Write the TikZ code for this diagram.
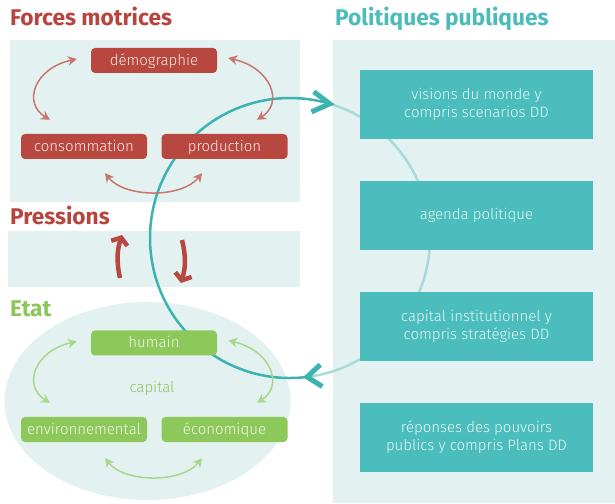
\documentclass[tikz,border=0pt]{standalone}
\usepackage{fontspec}
\setmainfont{Fira Sans}
\newfontfamily\lightfont{Fira Sans Light}
\usetikzlibrary{arrows.meta,calc}
\definecolor{redT}{HTML}{B8453D}
\definecolor{redBox}{HTML}{B8483F}
\definecolor{redArr}{HTML}{C8756C}
\definecolor{greenT}{HTML}{8CC65B}
\definecolor{greenBox}{HTML}{8DC85B}
\definecolor{greenArr}{HTML}{A9D78A}
\definecolor{tealT}{HTML}{4CBCBB}
\definecolor{tealBox}{HTML}{4BBDBC}
\definecolor{panel}{HTML}{E3F2F1}
\definecolor{tealDark}{HTML}{3DB3B1}
\definecolor{tealLight}{HTML}{A6DBD8}
\begin{document}
\begin{tikzpicture}[x=1pt,y=1pt,
  smallbox/.style={rounded corners=4pt, minimum width=126pt, minimum height=25pt, inner sep=0pt,
     text height=11pt, text depth=1pt, font=\lightfont\fontsize{15}{15}\selectfont},
  redbox/.style={smallbox, fill=redBox, text=white!88!redBox},
  greenbox/.style={smallbox, fill=greenBox, text=white!88!greenBox},
  polbox/.style={fill=tealBox, minimum width=233pt, minimum height=69pt, inner sep=0pt, align=center,
     text=white!88!tealBox, font=\lightfont\fontsize{15}{18}\selectfont},
  title/.style={anchor=base west, inner sep=0pt, font=\bfseries\fontsize{22.7}{22.7}\selectfont},
  dblarc/.style={line width=1.5pt, {Stealth[length=9pt,width=9.5pt]}-{Stealth[length=9pt,width=9.5pt]}},
  redarc/.style={dblarc, draw=redArr},
  greenarc/.style={dblarc, draw=greenArr},
  presarrow/.style={draw=redBox, line width=4.5pt, -{Straight Barb[length=6pt,width=17pt]}},
  cycarrow/.style={line width=2.5pt},
  chevron/.style={draw=tealDark, line width=5pt, line join=miter, line cap=butt}
]
\useasboundingbox (0,0) rectangle (615,503);
% panels
\fill[panel] (10,301) rectangle (300,463);
\fill[panel] (8,216) rectangle (300,272);
\fill[panel] (147.5,102) ellipse [x radius=143, y radius=99];
\fill[panel] (333,0) rectangle (615,463);
% titles
\node[title, text=redT] (tforces) at (10,477) {Forces motrices};
\node[title, text=redT] (tpress) at (10,278) {Pressions};
\node[title, text=greenT] (tetat) at (10,186) {Etat};
\node[title, text=tealT] (tpol) at (335,477) {Politiques publiques};
% cycle
\coordinate (cc) at (290,265);
\coordinate (ctop) at ($(cc)+(73.5:140)$);
\coordinate (cbot) at ($(cc)+(-83:140)$);
\draw[cycarrow, tealLight] (ctop) arc[start angle=73.5, end angle=-83, radius=140];
\draw[cycarrow, tealDark] (cbot) arc[start angle=277, end angle=73.5, radius=140];
\coordinate (ta1) at ($(ctop)+(143:20)$);
\coordinate (ta2) at ($(ctop)+(204:20)$);
\draw[chevron] (ta1) -- (ctop) -- (ta2);
\coordinate (ba1) at ($(cbot)+(43:18)$);
\coordinate (ba2) at ($(cbot)+(-32:18)$);
\draw[chevron] (ba1) -- (cbot) -- (ba2);
% pressions arrows
\coordinate (pu1) at (120,225); \coordinate (pu2) at (122,268);
\draw[presarrow] (pu1) to[bend left=15] (pu2);
\coordinate (pd1) at (182,263); \coordinate (pd2) at (181,220);
\draw[presarrow] (pd1) to[bend left=15] (pd2);
% politiques
\node[polbox] (p1) at (476.5,398.5) {visions du monde y\\compris scenarios DD};
\node[polbox] (p2) at (476.5,287.5) {agenda politique};
\node[polbox] (p3) at (476.5,176.5) {capital institutionnel y\\compris stratégies DD};
\node[polbox] (p4) at (476.5,65.5) {réponses des pouvoirs\\publics y compris Plans DD};
% forces
\node[redbox] (demo) at (154,442.5) {démographie};
\node[redbox] (cons) at (84,356.5) {consommation};
\node[redbox] (prod) at (224.5,356.5) {production};
\draw[redarc] ($(demo.west)+(-14,1.5)$) .. controls +(-42,-9) and +(-28,17) .. ($(cons.north)+(-34,14)$);
\draw[redarc] ($(demo.east)+(11,2.5)$) .. controls +(43,-10) and +(27,17) .. ($(prod.north)+(32.5,14)$);
\draw[redarc] ($(cons.south)+(21,-14)$) .. controls +(20,-25) and +(-20,-25) .. ($(prod.south)+(-22.5,-14)$);
% etat
\node[greenbox] (hum) at (154,160) {humain};
\node[greenbox] (env) at (84,73.5) {environnemental};
\node[greenbox] (eco) at (224.5,73.5) {économique};
\node[text=greenT, font=\lightfont\fontsize{15}{15}\selectfont] (cap) at (152,115) {capital};
\draw[greenarc] ($(hum.west)+(-14,1.5)$) .. controls +(-42,-9) and +(-28,17) .. ($(env.north)+(-34,14)$);
\draw[greenarc] ($(hum.east)+(11,2.5)$) .. controls +(43,-10) and +(27,17) .. ($(eco.north)+(32.5,14)$);
\draw[greenarc] ($(env.south)+(21,-16)$) .. controls +(20,-25) and +(-20,-25) .. ($(eco.south)+(-22.5,-16)$);
\end{tikzpicture}
\end{document}
